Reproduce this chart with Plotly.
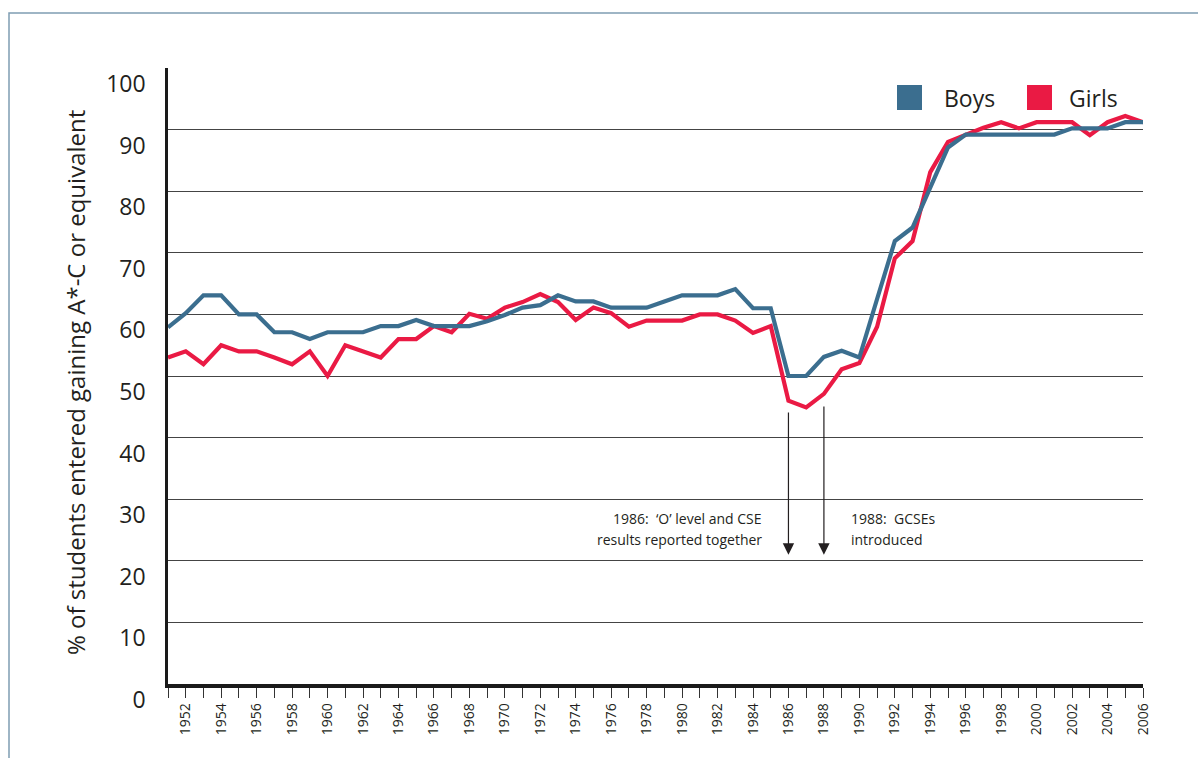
import plotly.graph_objects as go

# ---- data ----
years = list(range(1951, 2007))

boys = [
    57.9, 60.2, 63.1, 63.1, 60.0, 60.0, 57.1, 57.1, 56.0, 57.1,
    57.1, 57.1, 58.1, 58.1, 59.1, 58.1, 58.1, 58.1, 58.9, 59.9,
    61.1, 61.5, 63.1, 62.1, 62.1, 61.1, 61.1, 61.1, 62.1, 63.1,
    63.1, 63.1, 64.1, 61.0, 61.0, 50.0, 50.0, 53.1, 54.1, 53.0,
    62.5, 71.9, 74.1, 80.7, 87.1, 89.2, 89.2, 89.2, 89.2, 89.2,
    89.2, 90.2, 90.2, 90.2, 91.2, 91.2,
]

girls = [
    53.0, 54.0, 51.9, 55.0, 54.0, 54.0, 53.0, 51.9, 54.0, 50.0,
    55.0, 54.0, 53.0, 56.0, 56.0, 58.1, 57.1, 60.1, 59.3, 61.1,
    62.0, 63.3, 62.0, 59.1, 61.1, 60.2, 58.0, 59.0, 59.0, 59.0,
    60.0, 60.0, 59.0, 57.0, 58.1, 46.0, 44.9, 47.1, 51.1, 52.1,
    58.0, 69.1, 71.9, 83.1, 88.0, 89.2, 90.3, 91.2, 90.2, 91.2,
    91.2, 91.2, 89.1, 91.2, 92.2, 91.2,
]

y_ticks = [0, 10, 20, 30, 40, 50, 60, 70, 80, 90, 100]

event_years = [1986, 1988]
event_arrow_top = [44.3, 45.3]
event_arrow_bottom = 21
event_text_1986 = ["1986:  \u2018O\u2019 level and CSE", "results reported together"]
event_text_1988 = ["1988:  GCSEs", "introduced"]

# ---- styling ----
BOYS_COLOR = "#3b6e8f"
GIRLS_COLOR = "#ea1a44"
TEXT_COLOR = "#231f20"
FONT = "Open Sans"

W, H = 1198, 758
L, R, T, B = 168, 55, 68, 74
PW, PH = W - L - R, H - T - B


def px(x):
    """pixel x -> paper x"""
    return (x - L) / PW


def py(y):
    """pixel y -> paper y"""
    return (H - B - y) / PH


fig = go.Figure()

fig.add_trace(go.Scatter(
    x=years, y=girls, mode="lines", name="Girls",
    line=dict(color=GIRLS_COLOR, width=4.2),
    showlegend=False,
))
fig.add_trace(go.Scatter(
    x=years, y=boys, mode="lines", name="Boys",
    line=dict(color=BOYS_COLOR, width=4.2),
    showlegend=False,
))

shapes = [
    # outer frame (only top and left edges visible)
    dict(type="rect", xref="paper", yref="paper",
         x0=px(9), x1=px(1300), y0=py(900), y1=py(13),
         line=dict(color="#7f9db3", width=1.5), layer="below"),
    # legend squares
    dict(type="rect", xref="paper", yref="paper",
         x0=px(897), x1=px(922), y0=py(110), y1=py(85),
         fillcolor=BOYS_COLOR, line=dict(width=0)),
    dict(type="rect", xref="paper", yref="paper",
         x0=px(1027), x1=px(1052), y0=py(110), y1=py(85),
         fillcolor=GIRLS_COLOR, line=dict(width=0)),
]

annotations = [
    dict(text="Boys", xref="paper", yref="paper", x=px(942), y=py(98),
         xanchor="left", yanchor="middle", showarrow=False,
         font=dict(family=FONT, size=23, color=TEXT_COLOR)),
    dict(text="Girls", xref="paper", yref="paper", x=px(1067), y=py(98),
         xanchor="left", yanchor="middle", showarrow=False,
         font=dict(family=FONT, size=23, color=TEXT_COLOR)),
    dict(text="% of students entered gaining A*-C or equivalent",
         xref="paper", yref="paper", x=px(75), y=py(383),
         xanchor="center", yanchor="middle", textangle=-90, showarrow=False,
         font=dict(family=FONT, size=24, color=TEXT_COLOR)),
]

# event arrows
for yr, top in zip(event_years, event_arrow_top):
    annotations.append(dict(
        x=yr, y=event_arrow_bottom, ax=yr, ay=top,
        xref="x", yref="y", axref="x", ayref="y",
        text="", showarrow=True, arrowhead=2, arrowsize=1.9,
        arrowwidth=1.2, arrowcolor=TEXT_COLOR,
    ))

# event notes, one annotation per line
for i, line in enumerate(event_text_1986):
    annotations.append(dict(
        text=line, xref="paper", yref="paper", x=px(764), y=py(518 + 21 * i),
        xanchor="right", yanchor="middle", showarrow=False,
        font=dict(family=FONT, size=14, color=TEXT_COLOR)))
for i, line in enumerate(event_text_1988):
    annotations.append(dict(
        text=line, xref="paper", yref="paper", x=px(849), y=py(518 + 21 * i),
        xanchor="left", yanchor="middle", showarrow=False,
        font=dict(family=FONT, size=14, color=TEXT_COLOR)))

fig.update_layout(
    width=W, height=H,
    margin=dict(l=L, r=R, t=T, b=B),
    paper_bgcolor="white",
    plot_bgcolor="white",
    font=dict(family=FONT, color=TEXT_COLOR),
    shapes=shapes,
    annotations=annotations,
    showlegend=False,
)

fig.update_xaxes(
    range=[1951, 2006],
    tickmode="linear", tick0=1952, dtick=2,
    ticks="outside", ticklen=10, tickwidth=1.3, tickcolor="#333333",
    minor=dict(dtick=1, tick0=1951, ticks="outside", ticklen=10,
               tickwidth=1.3, tickcolor="#333333"),
    tickangle=-90,
    tickfont=dict(family=FONT, size=14, color=TEXT_COLOR),
    showgrid=False, zeroline=False,
    showline=True, linecolor="#1a1a1a", linewidth=3.5,
)

fig.update_yaxes(
    range=[0, 100],
    tickmode="array", tickvals=y_ticks,
    ticks="", ticklabelstandoff=15, ticklabelshift=16,
    tickfont=dict(family=FONT, size=23, color=TEXT_COLOR),
    showgrid=True, gridcolor="#444444", gridwidth=1.2,
    zeroline=False,
    showline=True, linecolor="#1a1a1a", linewidth=2.5,
)

# the page's default 8px body margin would shift the whole figure
fig.write_html(
    "out.html",
    config={"displayModeBar": False},
    post_script="document.body.style.margin='0';",
)
